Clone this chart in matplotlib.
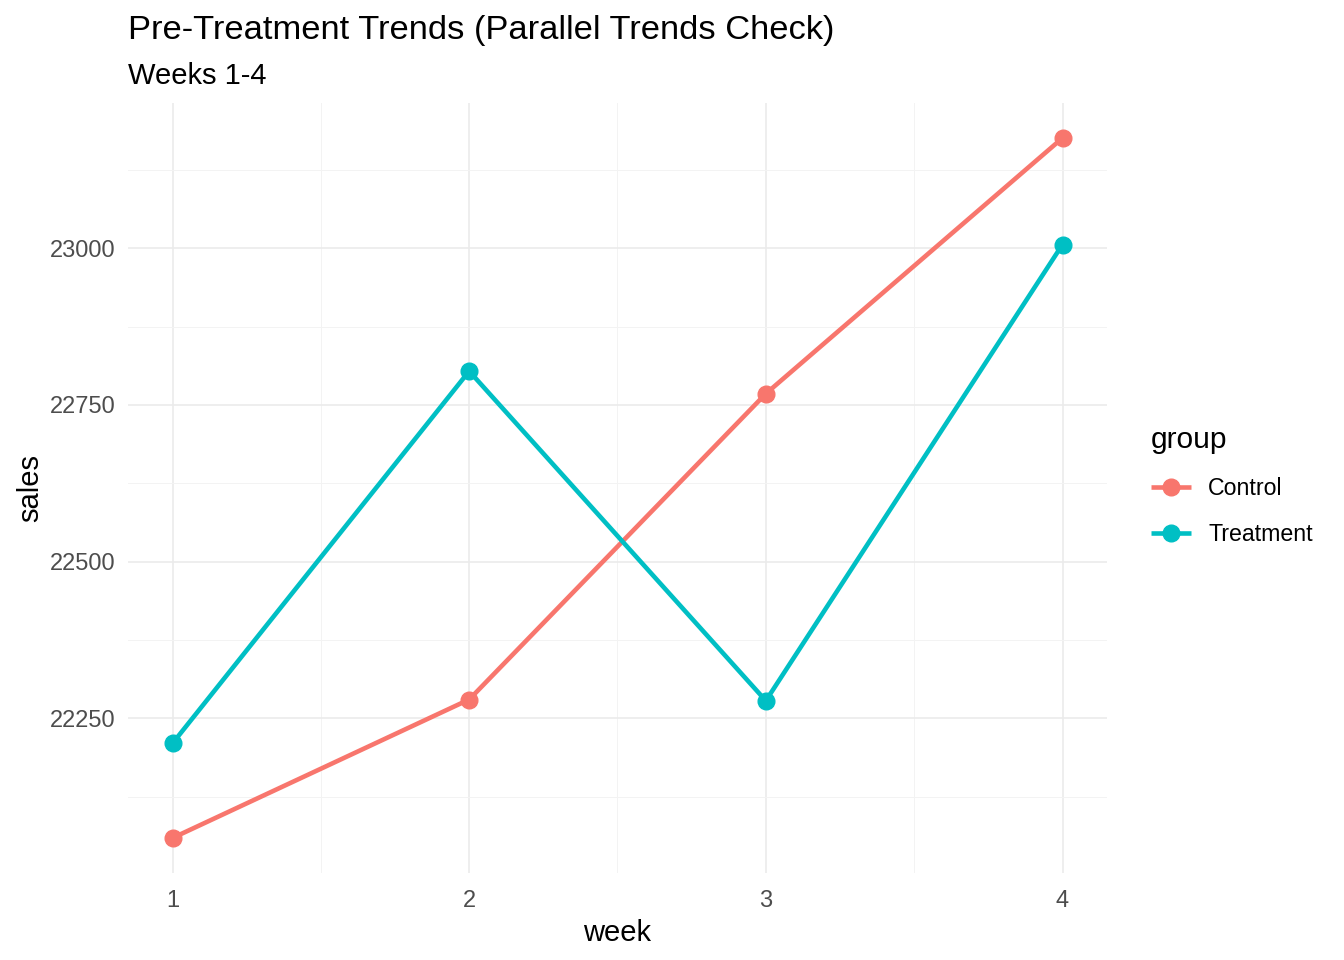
import matplotlib
matplotlib.use("Agg")
import matplotlib.pyplot as plt
from matplotlib.ticker import MultipleLocator

plt.rcParams['font.family'] = ['Liberation Sans', 'DejaVu Sans']

weeks = [1, 2, 3, 4]
groups = ["Control", "Treatment"]
control_sales = [22059, 22280, 22768, 23176]
treatment_sales = [22210, 22804, 22278, 23006]
colors = {"Control": "#F8766D", "Treatment": "#00BFC4"}

fig = plt.figure(figsize=(13.44, 9.6), dpi=100)
ax = fig.add_axes([128/1344, 1-873/960, (1107-128)/1344, (873-103)/960])

for g, vals in zip(groups, [control_sales, treatment_sales]):
    ax.plot(weeks, vals, color=colors[g], lw=3.3, marker='o', markersize=12,
            solid_capstyle='butt', label=g)

allv = control_sales + treatment_sales
lo, hi = min(allv), max(allv)
pad = (hi - lo) * 0.05
ax.set_ylim(lo - pad, hi + pad)
ax.set_xlim(1 - 0.15, 4 + 0.15)

ax.xaxis.set_major_locator(MultipleLocator(1))
ax.xaxis.set_minor_locator(MultipleLocator(0.5))
ax.yaxis.set_major_locator(MultipleLocator(250))
ax.yaxis.set_minor_locator(MultipleLocator(125))
ax.grid(which='major', color='#EBEBEB', lw=1.2)
ax.grid(which='minor', color='#F3F3F3', lw=0.7)
ax.set_axisbelow(True)
for s in ax.spines.values():
    s.set_visible(False)
ax.tick_params(which='both', length=0)
ax.tick_params(axis='both', labelsize=17, labelcolor='#4D4D4D')
ax.tick_params(axis='y', pad=9)
ax.tick_params(axis='x', pad=12)

ax.set_xlabel("week", fontsize=21, labelpad=5)
ax.set_ylabel("sales", fontsize=21, labelpad=4)

fig.text(128/1344, 1-31/960, "Pre-Treatment Trends (Parallel Trends Check)",
         fontsize=24.8, va='center', ha='left')
fig.text(128/1344, 1-76/960, "Weeks 1-4", fontsize=21, va='center', ha='left')

leg = fig.legend(*ax.get_legend_handles_labels(), loc='upper left',
                 bbox_to_anchor=(1151/1344, 1-426/960), frameon=False,
                 title="group", fontsize=16.7, title_fontsize=21.5,
                 handlelength=1.72, handletextpad=0.75, labelspacing=1.0,
                 borderaxespad=0, borderpad=0)
leg._legend_box.align = "left"

fig.savefig("out.png", dpi=100)
